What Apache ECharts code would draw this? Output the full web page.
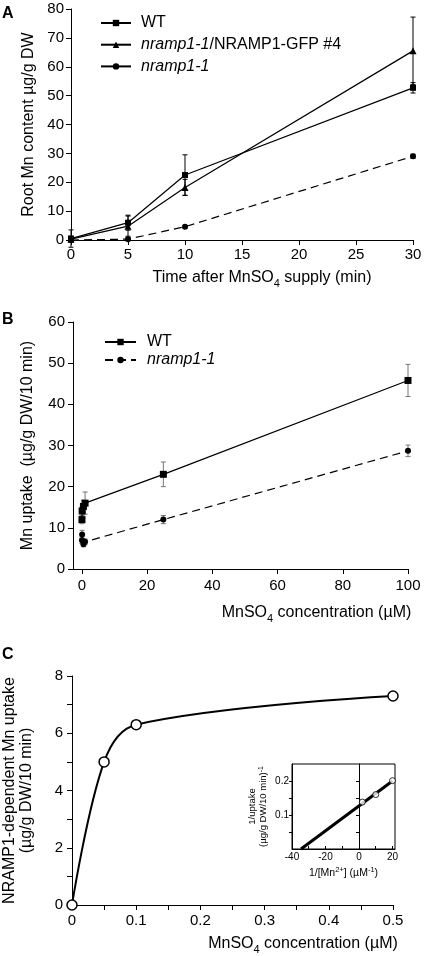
<!DOCTYPE html>
<html><head><meta charset="utf-8">
<script src="https://cdn.jsdelivr.net/npm/echarts@6/dist/echarts.min.js"></script>
<style>html,body{margin:0;padding:0;background:#fff}#c{width:427px;height:956px}</style>
</head><body><div id="c"></div>
<script>
// ---------- Panel A: root Mn content over time ----------
const timeA = [0, 5, 10, 30];
const wtA = [0.5, 6, 22.5, 52.7];
const wtAErr = [3, 2.6, 7, 1.8];
const gfpA = [0.3, 4.8, 18.2, 65.5];
const gfpAErr = [1, 3.5, 2.8, 11.7];
const nrA = [0, 0.3, 4.6, 29];
const nrAErr = [0.5, 0.5, 0.4, 0.7];
const ticksAX = [0, 5, 10, 15, 20, 25, 30];
const ticksAY = [0, 10, 20, 30, 40, 50, 60, 70, 80];

// ---------- Panel B: Mn uptake vs concentration ----------
const concB = [0.05, 0.1, 0.5, 1, 25, 100];
const wtB = [12, 14.1, 15.2, 16, 23, 45.8];
const wtBErr = [1, 1, 1.5, 2.7, 3, 3.9];
const nrB = [7, 8.4, 6, 6.6, 12, 28.7];
const nrBErr = [0.8, 1, 0.6, 0.7, 1, 1.4];
const ticksBX = [0, 20, 40, 60, 80, 100];
const ticksBY = [0, 10, 20, 30, 40, 50, 60];

// ---------- Panel C: NRAMP1-dependent uptake ----------
const concC = [0, 0.05, 0.1, 0.5];
const depC = [0, 5.0, 6.3, 7.3];
const ticksCX = [0, 0.05, 0.1, 0.15, 0.2, 0.25, 0.3, 0.35, 0.4, 0.45, 0.5];
const labelsCX = [0, 0.1, 0.2, 0.3, 0.4, 0.5];
const ticksCY = [0, 1, 2, 3, 4, 5, 6, 7, 8];
const labelsCY = [0, 2, 4, 6, 8];

// ---------- Inset: double reciprocal ----------
const invConc = [2, 10, 20];
const invUptake = [0.138, 0.16, 0.201];
const fitX = [-34.6, 20];
const fitY = [0, 0.2];
const ticksIX = [-40, -30, -20, -10, 0, 10, 20];
const labelsIX = [-40, -20, 0, 20];
const ticksIY = [0.05, 0.1, 0.15, 0.2];
const labelsIY = [0.1, 0.2];

const FONT = '"Liberation Sans", Arial, sans-serif';
const zip = (a, b) => a.map((v, i) => [v, b[i]]);

function errSeries(xi, yi, xs, ys, es, color, capW) {
  return {
    type: 'custom', xAxisIndex: xi, yAxisIndex: yi, silent: true, z: 1, clip: false,
    data: xs.map((x, i) => [x, ys[i] - es[i], ys[i] + es[i]]),
    encode: { x: 0, y: [1, 2] },
    renderItem(params, api) {
      const lo = api.coord([api.value(0), api.value(1)]);
      const hi = api.coord([api.value(0), api.value(2)]);
      const h = capW / 2;
      const st = { stroke: color, lineWidth: 1 };
      return { type: 'group', children: [
        { type: 'line', shape: { x1: lo[0], y1: lo[1], x2: hi[0], y2: hi[1] }, style: st },
        { type: 'line', shape: { x1: lo[0] - h, y1: lo[1], x2: lo[0] + h, y2: lo[1] }, style: st },
        { type: 'line', shape: { x1: hi[0] - h, y1: hi[1], x2: hi[0] + h, y2: hi[1] }, style: st }
      ]};
    }
  };
}

const axLine = { show: true, onZero: false, lineStyle: { color: '#000', width: 1 } };
const tickStyle = { color: '#000', width: 1 };
const nameStyle = (extra) => Object.assign({
  fontFamily: FONT, fontSize: 16, color: '#000', lineHeight: 22,
  rich: { sub: { fontSize: 11, lineHeight: 12, verticalAlign: 'bottom', fontFamily: FONT, color: '#000' } }
}, extra || {});

const chart = echarts.init(document.getElementById('c'), null, { renderer: 'canvas' });
chart.setOption({
  animation: false,
  backgroundColor: '#fff',
  textStyle: { fontFamily: FONT, color: '#000' },
  graphic: [
    { type: 'text', left: 2, top: 6, style: { text: 'A', font: 'bold 16px ' + FONT, fill: '#000' } },
    { type: 'text', left: 2, top: 312, style: { text: 'B', font: 'bold 16px ' + FONT, fill: '#000' } },
    { type: 'text', left: 2, top: 647, style: { text: 'C', font: 'bold 16px ' + FONT, fill: '#000' } }
  ],
  legend: [
    {
      left: 100, top: 15, padding: 0, orient: 'vertical', itemWidth: 30, itemHeight: 8, itemGap: 5.7,
      textStyle: { fontSize: 16, lineHeight: 16, fontFamily: FONT, color: '#000', padding: [0, 0, 0, 5],
        rich: { i: { fontStyle: 'italic', fontSize: 16, fontFamily: FONT, color: '#000' } } },
      formatter: n => n === 'WT' ? 'WT' : (n === 'nramp1-1' ? '{i|nramp1-1}' : '{i|nramp1-1}/NRAMP1-GFP #4'),
      data: ['WT', 'nramp1-1/NRAMP1-GFP #4', { name: 'nramp1-1', lineStyle: { type: 'solid' } }]
    },
    {
      left: 104, top: 334, padding: 0, orient: 'vertical', itemWidth: 31, itemHeight: 8, itemGap: 2,
      textStyle: { fontSize: 16, lineHeight: 16, fontFamily: FONT, color: '#000', padding: [0, 0, 0, 6],
        rich: { i: { fontStyle: 'italic', fontSize: 16, fontFamily: FONT, color: '#000' } } },
      formatter: n => n === 'WT' ? 'WT' : '{i|nramp1-1}',
      data: ['WT', 'nramp1-1']
    }
  ],
  grid: [
    { left: 71, top: 9, width: 342, height: 231, outerBoundsMode: 'none' },
    { left: 73, top: 322, width: 335, height: 247, outerBoundsMode: 'none' },
    { left: 72, top: 676, width: 321, height: 229, outerBoundsMode: 'none' },
    { left: 292, top: 764, width: 103, height: 85, show: true, borderColor: '#000', borderWidth: 1, backgroundColor: 'transparent', outerBoundsMode: 'none' }
  ],
  xAxis: [
    { gridIndex: 0, type: 'value', min: 0, max: 30, splitLine: { show: false }, axisLine: axLine,
      axisTick: { show: true, length: 5, lineStyle: tickStyle, customValues: ticksAX },
      axisLabel: { fontSize: 15, color: '#000', margin: 7, customValues: ticksAX },
      name: 'Time after MnSO{sub|4} supply (min)', nameLocation: 'middle', nameGap: 27,
      nameTextStyle: nameStyle({ padding: [0, 0, 0, 40] }) },
    { gridIndex: 1, type: 'value', min: -2.7, max: 100, splitLine: { show: false }, axisLine: axLine,
      axisTick: { show: true, length: 5, lineStyle: tickStyle, customValues: ticksBX },
      axisLabel: { fontSize: 15, color: '#000', margin: 9, customValues: ticksBX },
      name: 'MnSO{sub|4} concentration (µM)', nameLocation: 'middle', nameGap: 33,
      nameTextStyle: nameStyle({ padding: [0, 0, 0, 152] }) },
    { gridIndex: 2, type: 'value', min: 0, max: 0.5, splitLine: { show: false }, axisLine: axLine,
      axisTick: { show: true, length: 5, lineStyle: tickStyle, customValues: ticksCX },
      axisLabel: { fontSize: 15, color: '#000', margin: 8, customValues: labelsCX },
      name: 'MnSO{sub|4} concentration (µM)', nameLocation: 'middle', nameGap: 28,
      nameTextStyle: nameStyle({ padding: [0, 0, 0, 141] }) },
    { gridIndex: 3, type: 'value', min: -40, max: 21.5, splitLine: { show: false }, axisLine: axLine,
      axisTick: { show: true, inside: true, length: 3, lineStyle: tickStyle, customValues: ticksIX },
      axisLabel: { fontSize: 10, color: '#000', margin: 3, customValues: labelsIX },
      name: '1/[Mn{sup|2+}] (µM{sup|-1})', nameLocation: 'middle', nameGap: 17,
      nameTextStyle: { fontFamily: FONT, fontSize: 10.5, color: '#000', lineHeight: 14,
        rich: { sup: { fontSize: 7.5, lineHeight: 8, verticalAlign: 'top', fontFamily: FONT, color: '#000' } } } }
  ],
  yAxis: [
    { gridIndex: 0, type: 'value', min: 0, max: 80, splitLine: { show: false }, axisLine: axLine,
      axisTick: { show: true, length: 5, lineStyle: tickStyle, customValues: ticksAY },
      axisLabel: { fontSize: 15, color: '#000', margin: 7, customValues: ticksAY },
      name: 'Root Mn content µg/g DW', nameLocation: 'middle', nameRotate: 90, nameGap: 31,
      nameTextStyle: nameStyle({ lineHeight: 16 }) },
    { gridIndex: 1, type: 'value', min: 0, max: 60, splitLine: { show: false }, axisLine: axLine,
      axisTick: { show: true, length: 5, lineStyle: tickStyle, customValues: ticksBY },
      axisLabel: { fontSize: 15, color: '#000', margin: 8, customValues: ticksBY },
      name: 'Mn uptake  (µg/g DW/10 min)', nameLocation: 'middle', nameRotate: 90, nameGap: 37,
      nameTextStyle: nameStyle({ lineHeight: 16 }) },
    { gridIndex: 2, type: 'value', min: 0, max: 8, splitLine: { show: false }, axisLine: axLine,
      axisTick: { show: true, length: 5, lineStyle: tickStyle, customValues: ticksCY },
      axisLabel: { fontSize: 15, color: '#000', margin: 9, customValues: labelsCY },
      name: 'NRAMP1-dependent Mn uptake\n(µg/g DW/10 min)', nameLocation: 'middle', nameRotate: 90, nameGap: 37,
      nameTextStyle: nameStyle({ lineHeight: 17 }) },
    { gridIndex: 3, type: 'value', min: 0, max: 0.25, position: 'left', splitLine: { show: false }, axisLine: axLine,
      axisTick: { show: true, length: 3, lineStyle: tickStyle, customValues: ticksIY },
      axisLabel: { fontSize: 10, color: '#000', margin: 3, customValues: labelsIY },
      name: '1/uptake\n(µg/g DW/10 min){sup|-1}', nameLocation: 'middle', nameRotate: 90, nameGap: 23,
      nameTextStyle: { fontFamily: FONT, fontSize: 9.5, color: '#000', lineHeight: 11,
        rich: { sup: { fontSize: 7, lineHeight: 7, verticalAlign: 'top', fontFamily: FONT, color: '#000' } } } },
    { gridIndex: 3, type: 'value', min: 0, max: 0.25, position: 'left', splitLine: { show: false },
      axisLine: { show: true, onZero: true, lineStyle: { color: '#000', width: 1 } },
      axisTick: { show: true, length: 3, lineStyle: tickStyle, customValues: ticksIY },
      axisLabel: { show: false } }
  ],
  series: [
    // Panel A
    { name: 'WT', type: 'line', xAxisIndex: 0, yAxisIndex: 0, data: zip(timeA, wtA), symbol: 'rect', symbolSize: 6,
      itemStyle: { color: '#000' }, lineStyle: { color: '#000', width: 1.2 }, z: 3 },
    { name: 'nramp1-1/NRAMP1-GFP #4', type: 'line', xAxisIndex: 0, yAxisIndex: 0, data: zip(timeA, gfpA), symbol: 'triangle', symbolSize: 7,
      itemStyle: { color: '#000' }, lineStyle: { color: '#000', width: 1.2 }, z: 3 },
    { name: 'nramp1-1', type: 'line', xAxisIndex: 0, yAxisIndex: 0, data: zip(timeA, nrA), symbol: 'circle', symbolSize: 6,
      itemStyle: { color: '#000' }, lineStyle: { color: '#000', width: 1.2, type: [8, 5] }, z: 3 },
    errSeries(0, 0, timeA, wtA, wtAErr, '#000', 5),
    errSeries(0, 0, timeA, gfpA, gfpAErr, '#000', 5),
    errSeries(0, 0, timeA, nrA, nrAErr, '#000', 5),
    // Panel B
    { name: 'WT', type: 'line', xAxisIndex: 1, yAxisIndex: 1, data: zip(concB, wtB), symbol: 'rect', symbolSize: 7,
      itemStyle: { color: '#000' }, lineStyle: { color: '#000', width: 1.2 }, z: 3 },
    { name: 'nramp1-1', type: 'line', xAxisIndex: 1, yAxisIndex: 1, data: zip(concB, nrB), symbol: 'circle', symbolSize: 6,
      itemStyle: { color: '#000' }, lineStyle: { color: '#000', width: 1.2, type: [8, 5] }, z: 3 },
    errSeries(1, 1, concB, wtB, wtBErr, '#777', 5),
    errSeries(1, 1, concB, nrB, nrBErr, '#777', 5),
    // Panel C
    { type: 'line', xAxisIndex: 2, yAxisIndex: 2, data: zip(concC, depC), smooth: 0.35,
      symbol: 'circle', symbolSize: 10, showAllSymbol: true,
      itemStyle: { color: '#fff', borderColor: '#000', borderWidth: 1.5 },
      lineStyle: { color: '#000', width: 2 }, z: 3 },
    // Inset
    { type: 'line', xAxisIndex: 3, yAxisIndex: 3, data: zip(fitX, fitY), symbol: 'none',
      lineStyle: { color: '#000', width: 3 }, z: 3 },
    { type: 'scatter', xAxisIndex: 3, yAxisIndex: 3, data: zip(invConc, invUptake), symbol: 'circle', symbolSize: 6,
      itemStyle: { color: '#fff', borderColor: '#000', borderWidth: 1 }, z: 4 }
  ]
});
</script>
</body></html>
